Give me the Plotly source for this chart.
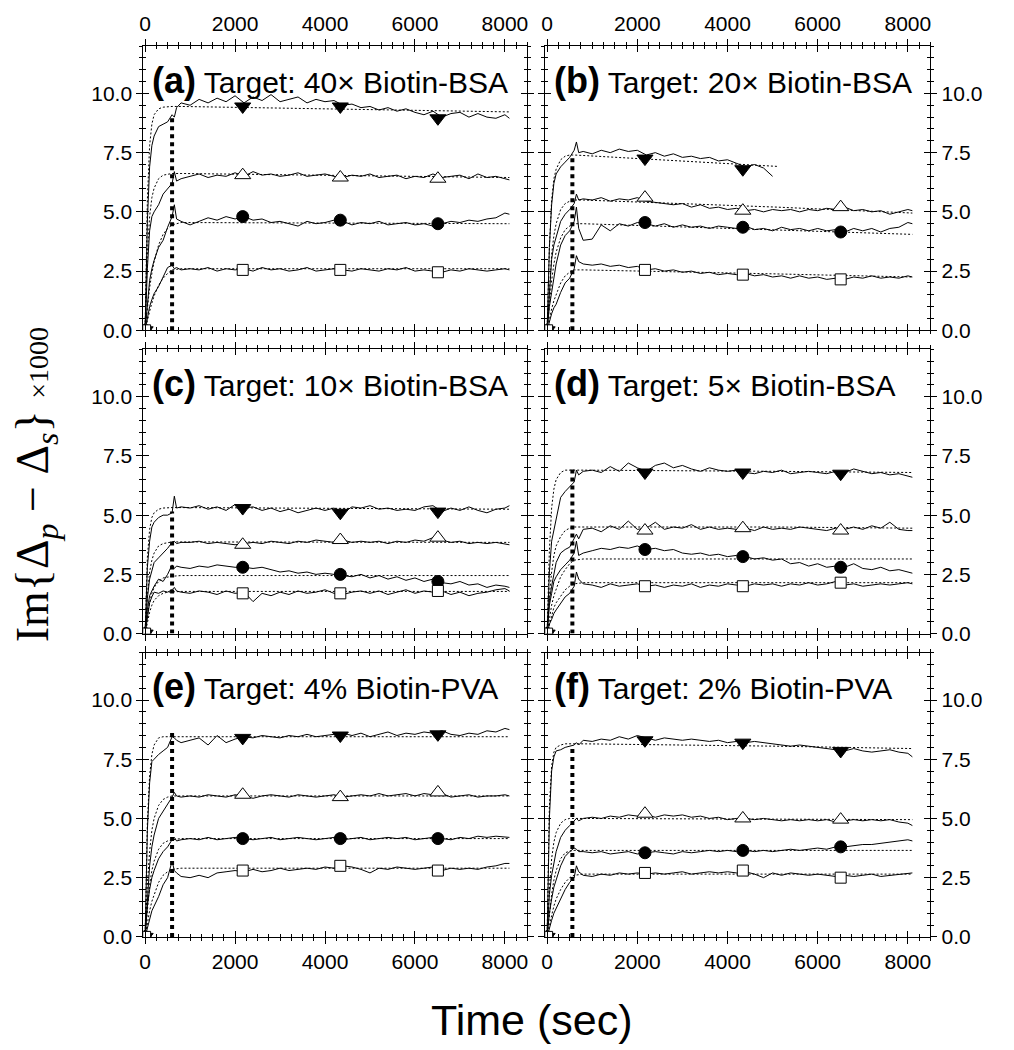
import plotly.graph_objects as go

# ---------------- data ----------------
T_RISE = [0, 50, 100, 150, 200, 300, 400, 500, 600, 650, 700, 800]
T_PLAT = list(range(1000, 8001, 200)) + [8100]
T_DATA = T_RISE + T_PLAT
T_FIT = [0, 50, 100, 150, 200, 300, 400, 500, 600, 800, 5100, 8100]
T_MARK = [0, 2170, 4340, 6510]

PANEL_IDS = ["a", "b", "c", "d", "e", "f"]
PANEL_TITLES = ["Target: 40\u00d7 Biotin-BSA", "Target: 20\u00d7 Biotin-BSA",
                "Target: 10\u00d7 Biotin-BSA", "Target: 5\u00d7 Biotin-BSA",
                "Target: 4% Biotin-PVA", "Target: 2% Biotin-PVA"]
VLINE_T = [600, 560, 600, 560, 600, 560]
VLINE_TOP = [9.0, 7.4, 5.15, 7.0, 8.7, 8.1]

X_TICKS = [0, 2000, 4000, 6000, 8000]
Y_TICKS = [0, 2.5, 5, 7.5, 10]
Y_TICKTEXT = ["0.0", "2.5", "5.0", "7.5", "10.0"]

# ---- panel (a) ----
a_down = [0, 4.6, 6.9, 7.8, 8.2, 8.6, 8.7, 8.8, 9.1, 9.0, 9.4, 9.6,
          9.5, 9.75, 9.6, 9.8, 9.65, 9.9, 9.6, 9.85, 9.7, 9.95,
          9.65, 9.75, 9.85, 9.6, 9.75, 9.65, 9.7, 9.5, 9.55, 9.4,
          9.45, 9.3, 9.4, 9.25, 9.35, 9.2, 9.1, 9.25, 9.0, 9.15,
          9.2, 9.0, 9.15, 9.0, 8.95, 9.1, 8.95]
a_up = [0, 2.6, 4.2, 4.8, 5.0, 5.3, 5.75, 6.0, 6.2, 6.7, 6.3, 6.4,
        6.5, 6.6, 6.45, 6.55, 6.5, 6.65, 6.5, 6.7, 6.55, 6.6,
        6.5, 6.55, 6.65, 6.5, 6.55, 6.6, 6.5, 6.45, 6.55, 6.5,
        6.6, 6.45, 6.5, 6.55, 6.4, 6.5, 6.45, 6.6, 6.45, 6.5,
        6.55, 6.4, 6.6, 6.45, 6.5, 6.4, 6.35]
a_circle = [0, 1.2, 2.1, 2.6, 2.95, 3.5, 3.8, 4.35, 4.8, 5.3, 4.7, 4.6,
            4.45, 4.6, 4.75, 4.65, 4.8, 4.7, 4.8, 4.65, 4.7, 4.55,
            4.6, 4.5, 4.4, 4.6, 4.5, 4.55, 4.65, 4.6, 4.45, 4.55,
            4.5, 4.6, 4.45, 4.5, 4.55, 4.45, 4.5, 4.4, 4.5, 4.6,
            4.55, 4.65, 4.6, 4.7, 4.75, 4.95, 4.9]
a_square = [0, 0.6, 1.0, 1.3, 1.55, 1.85, 2.25, 2.65, 2.75, 2.6, 2.65, 2.55,
            2.6, 2.55, 2.65, 2.5, 2.6, 2.55, 2.6, 2.5, 2.65, 2.55,
            2.6, 2.5, 2.55, 2.65, 2.5, 2.55, 2.6, 2.55, 2.5, 2.6,
            2.55, 2.5, 2.6, 2.55, 2.65, 2.5, 2.55, 2.5, 2.45, 2.55,
            2.5, 2.6, 2.55, 2.5, 2.55, 2.6, 2.55]
a_fit_down = [0, 5.5, 7.8, 8.7, 9.1, 9.35, 9.42, 9.45, 9.45, 9.45, 9.3, 9.22]
a_fit_up = [0, 3.2, 4.8, 5.6, 6.0, 6.4, 6.55, 6.6, 6.62, 6.62, 6.52, 6.45]
a_fit_circle = [0, 1.0, 1.8, 2.4, 2.9, 3.6, 4.05, 4.3, 4.45, 4.55, 4.52, 4.5]
a_fit_square = [0, 0.45, 0.8, 1.15, 1.45, 1.9, 2.2, 2.4, 2.55, 2.6, 2.6, 2.6]
a_mk_down = [0, 9.45, 9.45, 8.95]
a_mk_up = [0, 6.55, 6.45, 6.4]
a_mk_circle = [0, 4.8, 4.65, 4.5]
a_mk_square = [0, 2.55, 2.55, 2.45]

# ---- panel (b) ----
b_down = [0, 3.5, 5.3, 6.2, 6.6, 6.9, 7.1, 7.3, 7.6, 7.95, 7.5, 7.55,
          7.45, 7.6, 7.5, 7.65, 7.55, 7.6, 7.4, 7.5, 7.35, 7.45,
          7.3, 7.35, 7.25, 7.3, 7.15, 7.2, 7.05, 6.9, 7.0, 6.85,
          6.5, None, None, None, None, None, None, None, None, None,
          None, None, None, None, None, None, None]
b_up = [0, 1.8, 3.0, 3.6, 3.9, 4.6, 4.9, 5.1, 5.35, 5.75, 5.5, 5.55,
        5.5, 5.6, 5.45, 5.55, 5.5, 5.6, 5.45, 5.4, 5.35, 5.3,
        5.35, 5.2, 5.3, 5.15, 5.2, 5.1, 5.15, 5.05, 5.1, 5.0,
        5.1, 5.05, 5.1, 5.0, 5.1, 5.05, 5.15, 5.1, 5.2, 5.05,
        5.1, 5.0, 5.05, 4.9, 5.0, 5.1, 5.05]
b_circle = [0, 1.0, 1.6, 2.3, 2.8, 3.6, 4.0, 4.2, 4.6, 5.2, 4.3, 3.8,
            3.85, 4.45, 4.2, 4.5, 4.4, 4.55, 4.5, 4.4, 4.5, 4.35,
            4.45, 4.35, 4.4, 4.3, 4.4, 4.35, 4.3, 4.4, 4.25, 4.3,
            4.2, 4.35, 4.25, 4.3, 4.2, 4.3, 4.2, 4.25, 4.15, 4.3,
            4.2, 4.3, 4.15, 4.3, 4.35, 4.55, 4.5]
b_square = [0, 0.4, 0.7, 0.95, 1.1, 1.6, 2.0, 2.2, 2.6, 3.15, 2.9, 2.8,
            2.75, 2.8, 2.7, 2.75, 2.65, 2.7, 2.55, 2.6, 2.5, 2.55,
            2.45, 2.5, 2.4, 2.45, 2.35, 2.4, 2.35, 2.4, 2.3, 2.35,
            2.25, 2.3, 2.2, 2.3, 2.2, 2.25, 2.15, 2.2, 2.15, 2.25,
            2.2, 2.3, 2.2, 2.25, 2.2, 2.3, 2.25]
b_fit_down = [0, 3.5, 5.5, 6.4, 6.8, 7.2, 7.35, 7.4, 7.4, 7.38, 6.92, None]
b_fit_up = [0, 1.8, 3.2, 4.0, 4.5, 5.1, 5.35, 5.45, 5.5, 5.5, 5.2, 4.95]
b_fit_circle = [0, 1.2, 2.1, 2.8, 3.3, 3.9, 4.25, 4.4, 4.5, 4.5, 4.25, 4.05]
b_fit_square = [0, 0.5, 0.9, 1.25, 1.5, 2.0, 2.3, 2.45, 2.55, 2.55, 2.38, 2.25]
b_mk_down = [0, 7.25, 6.8, None]
b_mk_up = [0, 5.6, 5.05, 5.2]
b_mk_circle = [0, 4.55, 4.35, 4.15]
b_mk_square = [0, 2.55, 2.35, 2.15]

# ---- panel (c) ----
c_down = [0, 2.8, 3.9, 4.5, 4.7, 4.9, 5.0, 5.0, 5.1, 5.8, 5.3, 5.35,
          5.3, 5.4, 5.25, 5.35, 5.2, 5.45, 5.3, 5.35, 5.2, 5.3,
          5.15, 5.25, 5.1, 5.2, 5.3, 5.2, 5.3, 5.1, 5.35, 5.3,
          5.4, 5.25, 5.3, 5.2, 5.25, 5.2, 5.35, 5.4, 5.15, 5.3,
          5.2, 5.35, 5.2, 5.1, 5.25, 5.3, 5.4]
c_up = [0, 1.5, 2.3, 2.7, 3.0, 3.2, 3.4, 3.6, 3.85, 3.9, 3.8, 3.85,
        3.85, 3.9, 3.8, 3.85, 3.8, 3.75, 3.8, 3.85, 3.8, 3.9,
        3.85, 3.8, 3.9, 3.85, 3.95, 3.9, 3.85, 3.95, 3.85, 3.9,
        3.85, 3.9, 3.8, 3.9, 3.85, 3.95, 3.9, 4.05, 3.95, 3.85,
        3.9, 3.8, 3.85, 3.8, 3.85, 3.8, 3.75]
c_circle = [0, 1.0, 1.6, 1.8, 2.0, 2.3, 2.2, 2.5, 2.9, 2.75, 2.85, 2.8,
            2.75, 2.85, 2.8, 2.9, 2.85, 2.8, 2.8, 2.75, 2.8, 2.7,
            2.6, 2.65, 2.55, 2.6, 2.5, 2.55, 2.5, 2.45, 2.4, 2.5,
            2.35, 2.45, 2.3, 2.4, 2.25, 2.35, 2.2, 2.3, 2.15, 2.1,
            2.2, 2.05, 2.1, 1.95, 2.05, 2.0, 1.95]
c_square = [0, 0.6, 1.3, 1.55, 1.75, 1.7, 1.8, 1.75, 1.85, 1.95, 1.8, 1.75,
            1.7, 1.8, 1.75, 1.65, 1.8, 1.7, 1.75, 1.35, 1.7, 1.6,
            1.75, 1.65, 1.8, 1.7, 1.75, 1.85, 1.7, 1.65, 1.75, 1.8,
            1.7, 1.8, 1.65, 1.75, 1.85, 1.7, 1.8, 1.75, 1.8, 1.65,
            1.75, 1.6, 1.7, 1.75, 1.85, 1.9, 1.8]
c_fit_down = [0, 3.2, 4.4, 4.9, 5.1, 5.25, 5.3, 5.32, 5.32, 5.32, 5.28, 5.25]
c_fit_up = [0, 1.6, 2.6, 3.1, 3.4, 3.7, 3.8, 3.85, 3.87, 3.87, 3.85, 3.85]
c_fit_circle = [0, 0.8, 1.3, 1.7, 1.95, 2.2, 2.35, 2.4, 2.42, 2.45, 2.45, 2.45]
c_fit_square = [0, 0.5, 0.9, 1.2, 1.4, 1.6, 1.7, 1.75, 1.77, 1.78, 1.78, 1.78]
c_mk_down = [0, 5.3, 5.1, 5.15]
c_mk_up = [0, 3.75, 3.95, 4.05]
c_mk_circle = [0, 2.8, 2.5, 2.2]
c_mk_square = [0, 1.7, 1.7, 1.8]

# ---- panel (d) ----
d_down = [0, 2.6, 3.9, 4.4, 4.9, 5.75, 6.0, 6.2, 6.4, 6.9, 6.7, 6.85,
          6.9, 6.8, 7.05, 6.85, 7.2, 7.0, 6.85, 7.1, 7.2, 7.0,
          7.1, 6.95, 6.85, 7.0, 6.9, 6.85, 6.9, 6.8, 6.75, 6.85,
          6.8, 6.9, 6.75, 6.8, 6.85, 6.8, 6.75, 6.85, 6.8, 6.95,
          6.85, 6.75, 6.8, 6.7, 6.75, 6.65, 6.6]
d_up = [0, 1.4, 2.0, 2.6, 3.0, 3.4, 3.55, 3.65, 4.0, 4.2, 4.0, 4.4,
        4.45, 4.3, 4.55, 4.4, 4.75, 4.4, 4.45, 4.7, 4.4, 4.5,
        4.45, 4.6, 4.4, 4.5, 4.4, 4.45, 4.4, 4.45, 4.35, 4.5,
        4.4, 4.45, 4.4, 4.5, 4.45, 4.4, 4.35, 4.45, 4.4, 4.5,
        4.4, 4.55, 4.45, 4.7, 4.4, 4.35, 4.35]
d_circle = [0, 1.2, 1.7, 2.2, 2.4, 2.7, 2.9, 3.1, 3.4, 3.9, 3.3, 3.4,
            3.5, 3.6, 3.55, 3.65, 3.6, 3.7, 3.55, 3.6, 3.5, 3.55,
            3.4, 3.35, 3.4, 3.3, 3.35, 3.25, 3.3, 3.25, 3.15, 3.2,
            3.1, 3.15, 2.95, 3.0, 2.85, 2.95, 2.8, 2.85, 2.8, 2.95,
            2.75, 2.7, 2.8, 2.65, 2.7, 2.6, 2.55]
d_square = [0, 0.4, 0.6, 0.85, 1.0, 1.3, 1.55, 1.7, 2.0, 2.6, 2.3, 2.1,
            2.05, 1.95, 2.1, 2.0, 2.05, 2.1, 2.0, 2.05, 1.95, 2.05,
            2.0, 2.1, 1.95, 2.05, 2.0, 2.1, 2.05, 2.0, 2.1, 2.05,
            2.1, 2.0, 2.1, 2.05, 2.15, 2.05, 2.1, 2.2, 2.05, 2.1,
            2.0, 2.05, 2.1, 2.05, 2.1, 2.15, 2.1]
d_fit_down = [0, 3.5, 5.3, 6.1, 6.5, 6.8, 6.9, 6.9, 6.9, 6.9, 6.85, 6.8]
d_fit_up = [0, 1.6, 2.6, 3.3, 3.7, 4.1, 4.35, 4.45, 4.5, 4.5, 4.5, 4.45]
d_fit_circle = [0, 0.7, 1.2, 1.6, 1.9, 2.4, 2.7, 2.95, 3.1, 3.15, 3.15, 3.15]
d_fit_square = [0, 0.4, 0.8, 1.1, 1.3, 1.6, 1.85, 2.0, 2.1, 2.15, 2.15, 2.15]
d_mk_down = [0, 6.8, 6.8, 6.75]
d_mk_up = [0, 4.35, 4.45, 4.35]
d_mk_circle = [0, 3.55, 3.25, 2.8]
d_mk_square = [0, 2.0, 2.0, 2.15]

# ---- panel (e) ----
e_down = [0, 4.5, 6.5, 7.4, 7.5, 7.7, 7.85, 8.0, 8.45, 8.4, 8.3, 8.2,
          8.3, 8.4, 8.1, 8.5, 8.2, 8.35, 8.45, 8.4, 8.5, 8.45,
          8.4, 8.5, 8.45, 8.55, 8.45, 8.5, 8.55, 8.6, 8.5, 8.6,
          8.45, 8.55, 8.65, 8.5, 8.6, 8.55, 8.65, 8.6, 8.7, 8.55,
          8.5, 8.6, 8.55, 8.7, 8.65, 8.8, 8.75]
e_up = [0, 1.8, 3.0, 3.8, 4.3, 5.0, 5.3, 5.55, 5.9, 6.1, 5.95, 5.9,
        5.95, 5.9, 6.0, 5.95, 5.9, 6.0, 5.95, 5.85, 5.95, 6.0,
        5.95, 5.9, 6.0, 5.95, 5.9, 5.95, 6.0, 5.9, 5.95, 6.0,
        5.95, 6.05, 5.95, 6.0, 6.05, 5.95, 6.05, 6.0, 6.05, 5.9,
        5.95, 6.0, 5.9, 5.95, 5.95, 6.0, 5.95]
e_circle = [0, 1.3, 2.0, 2.5, 2.8, 3.3, 3.6, 3.8, 4.1, 4.2, 4.05, 4.1,
            4.15, 4.1, 4.2, 4.1, 4.15, 4.2, 4.15, 4.1, 4.15, 4.2,
            4.1, 4.15, 4.2, 4.15, 4.1, 4.15, 4.2, 4.1, 4.15, 4.2,
            4.1, 4.15, 4.2, 4.15, 4.2, 4.1, 4.15, 4.2, 4.15, 4.1,
            4.2, 4.15, 4.25, 4.2, 4.25, 4.2, 4.2]
e_square = [0, 0.4, 0.8, 1.1, 1.3, 1.7, 2.2, 2.5, 3.2, 2.8, 2.7, 2.55,
            2.5, 2.6, 2.5, 2.7, 2.75, 2.8, 2.75, 2.85, 2.75, 2.8,
            2.9, 2.8, 2.85, 2.9, 2.85, 2.95, 2.9, 3.0, 2.95, 2.85,
            2.7, 2.9, 2.85, 2.95, 2.9, 2.85, 2.9, 2.95, 2.8, 2.9,
            2.85, 2.9, 2.85, 2.95, 3.0, 3.1, 3.1]
e_fit_down = [0, 4.8, 6.8, 7.7, 8.1, 8.4, 8.45, 8.45, 8.45, 8.45, 8.45, 8.45]
e_fit_up = [0, 2.2, 3.6, 4.5, 5.0, 5.55, 5.8, 5.9, 5.95, 5.95, 5.95, 5.95]
e_fit_circle = [0, 1.3, 2.2, 2.8, 3.2, 3.7, 3.95, 4.05, 4.1, 4.15, 4.15, 4.15]
e_fit_square = [0, 0.6, 1.1, 1.5, 1.8, 2.3, 2.6, 2.75, 2.85, 2.9, 2.9, 2.9]
e_mk_down = [0, 8.4, 8.5, 8.55]
e_mk_up = [0, 6.0, 5.9, 6.1]
e_mk_circle = [0, 4.15, 4.15, 4.15]
e_mk_square = [0, 2.8, 3.0, 2.8]

# ---- panel (f) ----
f_down = [0, 5.0, 7.0, 7.6, 7.85, 7.9, 8.0, 8.05, 8.1, 8.2, 8.1, 8.3,
          8.25, 8.35, 8.3, 8.45, 8.35, 8.5, 8.4, 8.3, 8.4, 8.35,
          8.3, 8.35, 8.3, 8.25, 8.3, 8.2, 8.25, 8.2, 8.25, 8.2,
          8.15, 8.1, 8.05, 8.1, 8.05, 8.0, 7.95, 7.9, 7.85, 7.95,
          7.85, 7.8, 7.85, 7.9, 7.8, 7.75, 7.6]
f_up = [0, 1.8, 2.6, 3.2, 3.6, 4.2, 4.5, 4.7, 4.9, 5.0, 4.9, 5.0,
        5.05, 5.0, 5.1, 5.05, 5.15, 5.1, 5.15, 5.05, 5.15, 5.1,
        5.15, 5.05, 5.1, 5.0, 5.05, 4.95, 5.0, 5.0, 4.95, 5.0,
        4.95, 4.9, 4.95, 4.9, 4.95, 4.9, 4.95, 4.85, 4.9, 4.95,
        4.9, 4.95, 4.9, 4.95, 4.85, 4.8, 4.7]
f_circle = [0, 1.0, 1.6, 2.1, 2.4, 3.0, 3.4, 3.6, 3.75, 3.7, 3.6, 3.6,
            3.55, 3.6, 3.5, 3.55, 3.6, 3.5, 3.55, 3.6, 3.55, 3.5,
            3.6, 3.55, 3.6, 3.65, 3.6, 3.65, 3.6, 3.65, 3.6, 3.65,
            3.6, 3.65, 3.7, 3.65, 3.7, 3.75, 3.7, 3.8, 3.8, 3.85,
            3.9, 3.9, 3.95, 4.0, 4.05, 4.1, 4.05]
f_square = [0, 0.4, 0.7, 1.0, 1.2, 1.6, 2.0, 2.3, 2.5, 3.0, 2.75, 2.6,
            2.55, 2.65, 2.6, 2.7, 2.65, 2.7, 2.65, 2.7, 2.65, 2.7,
            2.75, 2.65, 2.7, 2.75, 2.7, 2.75, 2.7, 2.75, 2.65, 2.5,
            2.7, 2.6, 2.7, 2.65, 2.6, 2.65, 2.6, 2.55, 2.6, 2.55,
            2.6, 2.65, 2.55, 2.6, 2.65, 2.7, 2.7]
f_fit_down = [0, 5.5, 7.2, 7.8, 8.0, 8.1, 8.15, 8.15, 8.15, 8.15, 8.05, 7.95]
f_fit_up = [0, 2.0, 3.3, 4.0, 4.4, 4.8, 4.95, 5.0, 5.0, 5.0, 4.97, 4.95]
f_fit_circle = [0, 1.0, 1.8, 2.4, 2.8, 3.3, 3.55, 3.62, 3.65, 3.65, 3.65, 3.65]
f_fit_square = [0, 0.5, 0.9, 1.3, 1.6, 2.0, 2.3, 2.5, 2.6, 2.65, 2.65, 2.65]
f_mk_down = [0, 8.3, 8.2, 7.85]
f_mk_up = [0, 5.2, 5.0, 4.95]
f_mk_circle = [0, 3.55, 3.65, 3.8]
f_mk_square = [0, 2.7, 2.8, 2.5]

PANEL_DATA = {
    "a": ([a_down, a_up, a_circle, a_square],
          [a_fit_down, a_fit_up, a_fit_circle, a_fit_square],
          [a_mk_down, a_mk_up, a_mk_circle, a_mk_square]),
    "b": ([b_down, b_up, b_circle, b_square],
          [b_fit_down, b_fit_up, b_fit_circle, b_fit_square],
          [b_mk_down, b_mk_up, b_mk_circle, b_mk_square]),
    "c": ([c_down, c_up, c_circle, c_square],
          [c_fit_down, c_fit_up, c_fit_circle, c_fit_square],
          [c_mk_down, c_mk_up, c_mk_circle, c_mk_square]),
    "d": ([d_down, d_up, d_circle, d_square],
          [d_fit_down, d_fit_up, d_fit_circle, d_fit_square],
          [d_mk_down, d_mk_up, d_mk_circle, d_mk_square]),
    "e": ([e_down, e_up, e_circle, e_square],
          [e_fit_down, e_fit_up, e_fit_circle, e_fit_square],
          [e_mk_down, e_mk_up, e_mk_circle, e_mk_square]),
    "f": ([f_down, f_up, f_circle, f_square],
          [f_fit_down, f_fit_up, f_fit_circle, f_fit_square],
          [f_mk_down, f_mk_up, f_mk_circle, f_mk_square]),
}

# ---------------- styling ----------------
W, H = 1014, 1062          # figure size in CSS px
REF_H = 1050               # layout positions below are expressed in this frame
SANS = "Liberation Sans, Arial, Helvetica, sans-serif"
SERIF = "Liberation Serif, Times New Roman, serif"
MARKERS = [
    dict(symbol="triangle-down", size=14, color="black", line=dict(color="black", width=1)),
    dict(symbol="triangle-up", size=14, color="white", line=dict(color="black", width=1)),
    dict(symbol="circle", size=12, color="black", line=dict(color="black", width=1)),
    dict(symbol="square", size=11, color="white", line=dict(color="black", width=1)),
]
COL_PX = [(140, 526), (544, 931)]
ROW_PX = [(46, 330), (349, 633), (652, 936)]
X_RANGE = [-40, 8500]
Y_RANGE = [0, 12]
TICK_SIZE = 21


def sfx(n):
    return "" if n == 1 else str(n)


def fy_paper(v):
    return 1 - v / REF_H


fig = go.Figure()
layout = dict(width=W, height=H, margin=dict(l=0, r=0, t=0, b=0),
              paper_bgcolor="white", plot_bgcolor="white", showlegend=False,
              font=dict(family=SANS, color="black", size=TICK_SIZE))
annotations = []

for i, pid in enumerate(PANEL_IDS):
    k = i + 1
    ko = i + 7
    r, c = divmod(i, 2)
    xs, ys = "x" + sfx(k), "y" + sfx(k)
    xo, yo = "x" + sfx(ko), "y" + sfx(ko)
    xdom = [COL_PX[c][0] / W, COL_PX[c][1] / W]
    ydom = [fy_paper(ROW_PX[r][1]), fy_paper(ROW_PX[r][0])]

    common_x = dict(range=X_RANGE, tickmode="array", tickvals=X_TICKS,
                    showgrid=False, zeroline=False, tickcolor="black", tickwidth=1,
                    tickfont=dict(family=SANS, size=TICK_SIZE, color="black"))
    common_y = dict(range=Y_RANGE, tickmode="array", tickvals=Y_TICKS, ticktext=Y_TICKTEXT,
                    showgrid=False, zeroline=False, tickcolor="black", tickwidth=1,
                    tickfont=dict(family=SANS, size=TICK_SIZE, color="black"))

    layout["xaxis" + sfx(k)] = dict(
        common_x, domain=xdom, anchor=ys, ticks="outside", ticklen=6,
        showline=True, linecolor="black", linewidth=1, mirror="ticks",
        showticklabels=(r != 1), side="top" if r == 0 else "bottom",
        minor=dict(tick0=0, dtick=250, ticks="outside", ticklen=3,
                   tickcolor="black", showgrid=False))
    layout["xaxis" + sfx(ko)] = dict(
        common_x, overlaying=xs, anchor=ys, ticks="inside", ticklen=6,
        showline=False, mirror="ticks", showticklabels=False,
        side="top" if r == 0 else "bottom",
        minor=dict(tick0=0, dtick=250, ticks="inside", ticklen=3,
                   tickcolor="black", showgrid=False))
    layout["yaxis" + sfx(k)] = dict(
        common_y, domain=ydom, anchor=xs, ticks="outside", ticklen=6,
        showline=True, linecolor="black", linewidth=1, mirror="ticks",
        showticklabels=True, side="left" if c == 0 else "right",
        minor=dict(tick0=0, dtick=0.5, ticks="outside", ticklen=3,
                   tickcolor="black", showgrid=False))
    layout["yaxis" + sfx(ko)] = dict(
        common_y, overlaying=ys, anchor=xs, ticks="inside", ticklen=6,
        showline=False, mirror="ticks", showticklabels=False,
        side="left" if c == 0 else "right",
        minor=dict(tick0=0, dtick=0.5, ticks="inside", ticklen=3,
                   tickcolor="black", showgrid=False))

    # dummy traces so the inside-tick overlay axes are drawn
    fig.add_trace(go.Scatter(x=[None], y=[None], xaxis=xo, yaxis=ys, mode="lines",
                             hoverinfo="skip", showlegend=False))
    fig.add_trace(go.Scatter(x=[None], y=[None], xaxis=xs, yaxis=yo, mode="lines",
                             hoverinfo="skip", showlegend=False))

    series, fits, marks = PANEL_DATA[pid]
    for fyv in fits:
        fig.add_trace(go.Scatter(x=T_FIT, y=fyv, xaxis=xs, yaxis=ys, mode="lines",
                                 line=dict(color="black", width=1, dash="2px,2px"),
                                 hoverinfo="skip", connectgaps=False))
    for sy in series:
        fig.add_trace(go.Scatter(x=T_DATA, y=sy, xaxis=xs, yaxis=ys, mode="lines",
                                 line=dict(color="black", width=1),
                                 hoverinfo="skip", connectgaps=False))
    fig.add_trace(go.Scatter(x=[VLINE_T[i], VLINE_T[i]], y=[0, VLINE_TOP[i]],
                             xaxis=xs, yaxis=ys, mode="lines",
                             line=dict(color="black", width=4, dash="dot"),
                             hoverinfo="skip"))
    for my, ms in zip(marks, MARKERS):
        fig.add_trace(go.Scatter(x=T_MARK, y=my, xaxis=xs, yaxis=ys, mode="markers",
                                 marker=ms, hoverinfo="skip"))

    annotations.append(dict(
        text=f"<span style='font-size:36px'><b>({pid})</b></span> {PANEL_TITLES[i]}",
        x=(COL_PX[c][0] + 7) / W, y=fy_paper(80 + 303 * r),
        xref="paper", yref="paper", xanchor="left", yanchor="middle",
        showarrow=False, font=dict(family=SANS, size=30, color="black")))

annotations.append(dict(
    text="Time (sec)", x=530 / W, y=fy_paper(1019), xref="paper", yref="paper",
    xanchor="center", yanchor="middle", showarrow=False,
    font=dict(family=SANS, size=43, color="black")))
annotations.append(dict(
    text="Im{\u0394<sub><i>p</i></sub> \u2212 \u0394<sub><i>s</i></sub>} "
         "<span style='font-size:28px'>\u00d71000</span>",
    x=33 / W, y=fy_paper(484), xref="paper", yref="paper", textangle=-90,
    xanchor="center", yanchor="middle", showarrow=False,
    font=dict(family=SERIF, size=46, color="black")))

layout["annotations"] = annotations
fig.update_layout(**layout)
fig.write_html("out.html", config={"displayModeBar": False},
               post_script="document.body.style.margin='0px';")
